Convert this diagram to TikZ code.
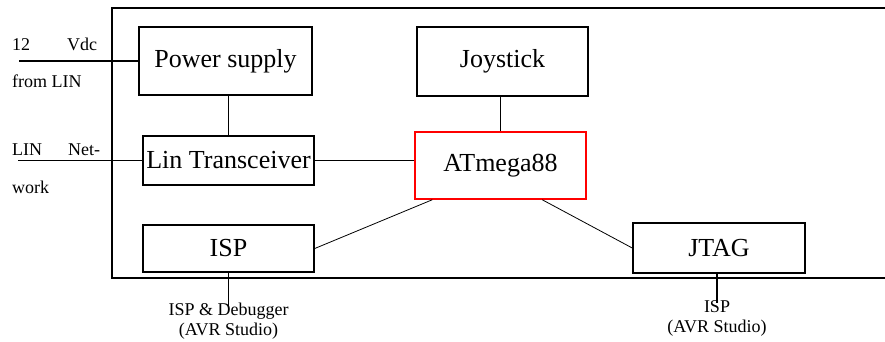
\documentclass[tikz,border=0pt]{standalone}
\usepackage{fontspec}
\setmainfont{Liberation Serif}
\usetikzlibrary{calc}
\tikzset{
  blk/.style={draw, line width=1.5pt, inner sep=0pt, font=\fontsize{26}{30}\selectfont},
  thick line/.style={line width=1.5pt},
  thin line/.style={line width=0.8pt},
  small/.style={inner sep=0pt, font=\fontsize{18}{19.5}\selectfont},
}
\begin{document}
\begin{tikzpicture}[x=1pt,y=-1pt]
\useasboundingbox (0,0) rectangle (885,341);
\clip (0,0) rectangle (885,341);
% outer frame (extends past right edge)
\coordinate (ftr) at (900,8);
\coordinate (ftl) at (112,8);
\coordinate (fbl) at (112,278);
\coordinate (fbr) at (900,278);
\draw[thick line] (ftr) -- (ftl) -- (fbl) -- (fbr);
% blocks
\node[blk, minimum width=173pt, minimum height=68pt] (ps) at (225.5,61) {Power supply};
\node[blk, minimum width=171pt, minimum height=69pt] (joy) at (502.5,61.5) {Joystick};
\node[blk, draw=red, minimum width=171pt, minimum height=67pt] (atm) at (500.5,165.5) {ATmega88};
\node[blk, minimum width=171pt, minimum height=49pt] (lin) at (228.5,160.5) {Lin Transceiver};
\node[blk, minimum width=171pt, minimum height=47pt] (isp) at (228.5,248.5) {ISP};
\node[blk, minimum width=172pt, minimum height=50pt] (jtag) at (719,248) {JTAG};
% input labels
\node[small, anchor=base west] (l12) at (12,50) {\makebox[85pt][l]{12\hfill Vdc}};
\node[small, anchor=base west] (lfrom) at (12,87) {from LIN};
\node[small, anchor=base west] (llin) at (12,155) {\makebox[88pt][l]{LIN\hfill Net-}};
\node[small, anchor=base west] (lwork) at (12,193) {work};
% input lines
\coordinate (pin) at (19,61);
\coordinate (lnin) at (18,160.5);
\draw[thick line] (pin) -- (ps.west);
\draw[thick line] (lnin) -- (lin.west);
% internal connectors
\draw[thick line] (lin.north |- ps.south) -- (lin.north);
\draw[thick line] (joy.south -| atm.north) -- (atm.north);
\draw[thin line] (lin.east) -- (lin.east -| atm.west);
\draw[thin line] ($(atm.south west)+(18,0)$) -- (isp.east);
\draw[thin line] ($(atm.south west)+(128,0)$) -- (jtag.west);
% debug outputs
\coordinate (ispout) at (228.5,307);
\coordinate (jtagout) at (717,303);
\draw[thick line] (isp.south) -- (ispout);
\draw[thick line] (jtag.south -| jtagout) -- (jtagout);
\node[small, align=center, anchor=base] (ispt) at (228.5,335) {ISP \& Debugger\\(AVR Studio)};
\node[small, align=center, anchor=base] (jtagt) at (717,332) {ISP\\(AVR Studio)};
\end{tikzpicture}
\end{document}
